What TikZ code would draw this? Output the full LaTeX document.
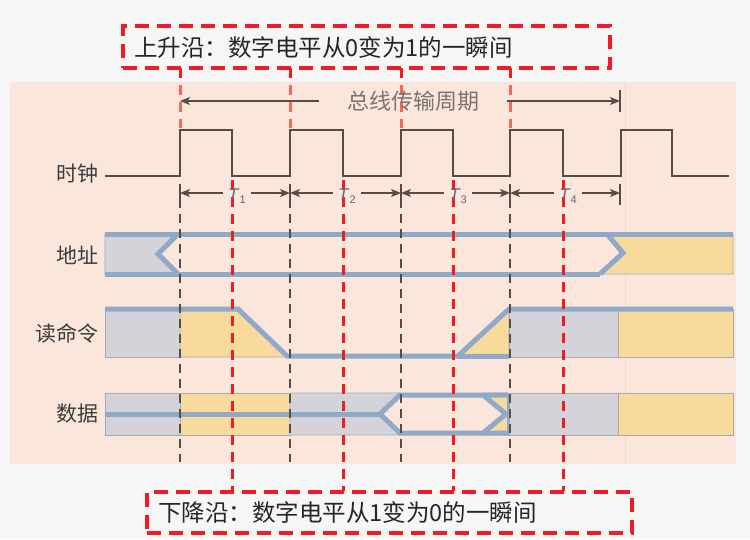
\documentclass[tikz,border=0pt]{standalone}
\usepackage{fontspec}
\newfontfamily\cjk{Noto Sans CJK SC}
\newfontfamily\tfont{Liberation Sans}
\usetikzlibrary{arrows.meta}
\definecolor{bgc}{HTML}{F6F6F6}
\definecolor{peach}{HTML}{FAE6DB}
\definecolor{peachline}{HTML}{F3D6C8}
\definecolor{busblue}{HTML}{8FA9C9}
\definecolor{graybox}{HTML}{D3D3D9}
\definecolor{yellowbox}{HTML}{F9DA9D}
\definecolor{clk}{HTML}{5B4B45}
\definecolor{edgec}{HTML}{A9A9B2}
\definecolor{redline}{HTML}{EE1C25}
\definecolor{redsoft}{HTML}{F26A5E}
\definecolor{labc}{HTML}{3C3C3C}
\definecolor{periodc}{HTML}{7C7470}
\definecolor{tc}{HTML}{66667A}
\tikzset{
  graybx/.style={fill=graybox, draw=edgec, line width=0.8pt},
  yellowbx/.style={fill=yellowbox, draw=edgec, line width=0.8pt},
  bus/.style={draw=busblue, line width=5pt, line join=miter, line cap=butt},
  clockline/.style={draw=clk, line width=2.5pt, line join=miter},
  blackdash/.style={draw=clk, line width=1.5pt, dash pattern=on 9pt off 6pt},
  reddash/.style={draw=redline, line width=3pt, dash pattern=on 10pt off 7pt},
  reddashsoft/.style={draw=redsoft, line width=3pt, dash pattern=on 10pt off 7pt},
  redbox/.style={draw=redline, line width=3.5pt, dash pattern=on 14pt off 8pt, inner sep=0pt},
  dim/.style={draw=clk, line width=1.3pt, -{Stealth[length=10pt,width=8pt,inset=2.5pt]}},
  tick/.style={draw=clk, line width=1.2pt},
  lab/.style={font=\cjk\fontsize{21}{24}\selectfont, text=labc, anchor=east, inner sep=0pt},
  boxtext/.style={font=\cjk\fontsize{23.5}{28}\selectfont, text=black!85, anchor=west, inner sep=0pt},
  tlab/.style={font=\tfont\fontsize{17}{20}\selectfont, text=tc, inner xsep=5pt, inner ysep=2pt},
}
\newcommand{\tsub}[1]{\textit{T}\raisebox{-0.35ex}{\fontsize{11}{12}\selectfont #1}}
\begin{document}
\begin{tikzpicture}[x=1pt,y=-1pt]
\useasboundingbox (0,0) rectangle (750,539);
\fill[bgc] (0,0) rectangle (750,539);
\fill[peach] (10,82) rectangle (736,464);
\draw[peachline, line width=1pt] (625,82) -- (625,464);

% ---------- address row ----------
\filldraw[graybx] (105,234) -- (178,234) -- (158,254) -- (178,274) -- (105,274) -- cycle;
\filldraw[yellowbx] (607,234) -- (733,234) -- (733,274) -- (600,274) -- (623,253) -- cycle;
\draw[bus] (105,234) -- (733,234);
\draw[bus] (105,274) -- (600,274);
\draw[bus] (178,234) -- (158,254) -- (178,274);
\draw[bus] (607,234) -- (623,253) -- (600,274);

% ---------- read command row ----------
\filldraw[graybx] (105,309) rectangle (180,357);
\filldraw[yellowbx] (180,309) -- (238,309) -- (287,357) -- (180,357) -- cycle;
\filldraw[yellowbx] (458,357) -- (509,309) -- (509,357) -- cycle;
\filldraw[graybx] (509,309) rectangle (618,357);
\filldraw[yellowbx] (618,309) rectangle (733,357);
\draw[bus] (105,309) -- (238,309) -- (287,356) -- (458,356) -- (509,309) -- (733,309);
\draw[bus] (458,356) -- (509,356);

% ---------- data row ----------
\filldraw[graybx] (105,393) rectangle (180,435);
\filldraw[yellowbx] (180,393) rectangle (290,435);
\filldraw[graybx] (290,393) -- (400,393) -- (380,414) -- (400,435) -- (290,435) -- cycle;
\filldraw[yellowbx] (483,393) -- (508,393) -- (508,435) -- (483,435) -- (506,414) -- cycle;
\filldraw[graybx] (508,393) rectangle (618,435);
\filldraw[yellowbx] (618,393) rectangle (733,435);
\draw[bus] (105,414) -- (380,414);
\draw[bus] (380,414) -- (400,395) -- (508,395);
\draw[bus] (380,414) -- (400,433) -- (508,433);
\draw[bus] (483,395) -- (506,414) -- (483,433);
\draw[draw=busblue, line width=3pt] (508,393) -- (508,435);

% ---------- clock ----------
\draw[clockline] (105,176) -- (180,176) -- (180,130) -- (232,130) -- (232,176)
  -- (290,176) -- (290,130) -- (343,130) -- (343,176)
  -- (401,176) -- (401,130) -- (453,130) -- (453,176)
  -- (510,176) -- (510,130) -- (563,130) -- (563,176)
  -- (621,176) -- (621,130) -- (672,130) -- (672,176) -- (729,176);

% ---------- black dashed lines ----------
\foreach \x in {180,290,401,510}{
  \draw[blackdash] (\x,184) -- (\x,462);
  \draw[tick] (\x,184) -- (\x,205);
}
\draw[tick] (620,184) -- (620,205);

% ---------- red dashed lines ----------
\foreach \x in {180,290,401,510}{
  \draw[reddash] (\x,68) -- (\x,82);
  \draw[reddashsoft, dash phase=14pt] (\x,82) -- (\x,128);
}
\foreach \x in {232,343,453,563}{
  \draw[reddash] (\x,180) -- (\x,491);
}

% ---------- labels ----------
\node[lab] (clklab) at (99,174) {时钟};
\node[lab] (addrlab) at (99,255) {地址};
\node[lab] (rdlab) at (99,333) {读命令};
\node[lab] (datalab) at (99,414) {数据};

% ---------- bus period ----------
\node[font=\cjk\fontsize{22}{26}\selectfont, text=periodc, inner xsep=28pt, inner ysep=0pt] (period) at (413,101) {总线传输周期};
\coordinate (pl) at (180,101);
\coordinate (pr) at (620,101);
\draw[dim] (period.west) -- (pl);
\draw[dim] (period.east) -- (pr);
\draw[tick] (620,90) -- (620,112);

% ---------- T periods ----------
\node[tlab] (T1) at (237,196) {\tsub{1}};
\node[tlab] (T2) at (347,196) {\tsub{2}};
\node[tlab] (T3) at (458,196) {\tsub{3}};
\node[tlab] (T4) at (568,196) {\tsub{4}};
\coordinate (e0) at (180,193);
\coordinate (e1) at (290,193);
\coordinate (e2) at (401,193);
\coordinate (e3) at (510,193);
\coordinate (e4) at (620,193);
\draw[dim] (T1.west |- e0) -- (e0);
\draw[dim] (T1.east |- e1) -- (e1);
\draw[dim] (T2.west |- e1) -- (e1);
\draw[dim] (T2.east |- e2) -- (e2);
\draw[dim] (T3.west |- e2) -- (e2);
\draw[dim] (T3.east |- e3) -- (e3);
\draw[dim] (T4.west |- e3) -- (e3);
\draw[dim] (T4.east |- e4) -- (e4);

% ---------- annotation boxes ----------
\node[redbox, minimum width=487pt, minimum height=42pt] (risebox) at (366.5,47) {};
\node[boxtext] (risetext) at (134,47) {上升沿：数字电平从0变为1的一瞬间};
\node[redbox, minimum width=485pt, minimum height=41pt] (fallbox) at (389.5,512.5) {};
\node[boxtext] (falltext) at (158,512) {下降沿：数字电平从1变为0的一瞬间};
\end{tikzpicture}
\end{document}
